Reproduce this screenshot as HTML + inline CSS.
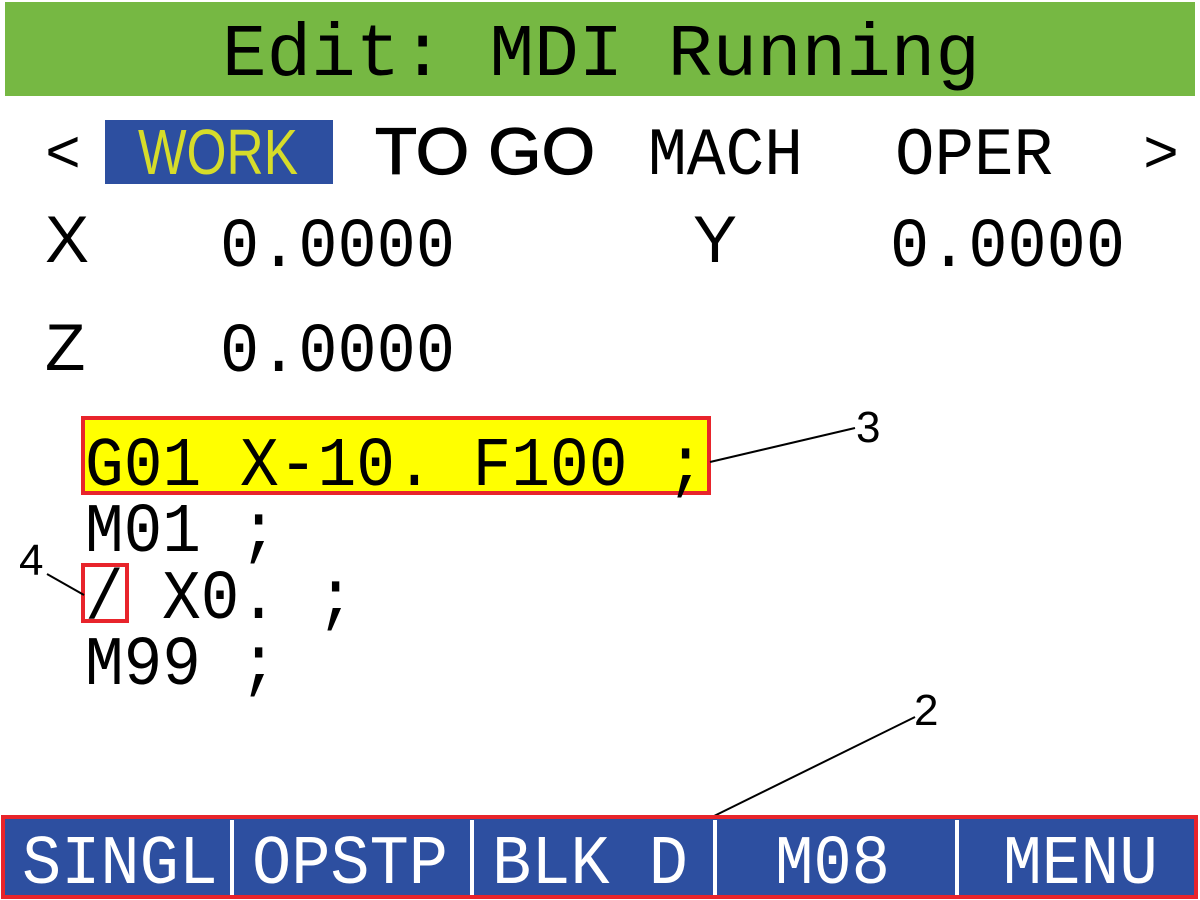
<!DOCTYPE html>
<html><head><meta charset="utf-8"><style>
html,body{margin:0;padding:0;background:#fff;width:1200px;height:900px;overflow:hidden}
svg{display:block}
text{font-family:"Liberation Mono",monospace}
.s{font-family:"Liberation Sans",sans-serif}
</style></head><body>
<svg width="1200" height="900" viewBox="0 0 1200 900">
<rect x="0" y="0" width="1200" height="900" fill="#fff"/>
<rect x="5" y="2" width="1190" height="94" fill="#76b843"/>
<text x="222" y="75" font-size="74" textLength="758" lengthAdjust="spacingAndGlyphs">Edit: MDI Running</text>

<text x="45" y="172" font-size="60">&lt;</text>
<rect x="105" y="120" width="228" height="64" fill="#2d4fa0"/>
<text x="138" y="174" font-size="64" fill="#d6dc2a" class="s" textLength="160" lengthAdjust="spacingAndGlyphs">WORK</text>
<text x="375" y="174" font-size="66" class="s" stroke="#000" stroke-width="1.2" textLength="220" lengthAdjust="spacingAndGlyphs">TO GO</text>
<text x="648" y="174" font-size="68" textLength="155" lengthAdjust="spacingAndGlyphs">MACH</text>
<text x="895" y="174" font-size="68" textLength="158" lengthAdjust="spacingAndGlyphs">OPER</text>
<text x="1143" y="172" font-size="60">&gt;</text>

<text x="45" y="262" font-size="66" class="s">X</text>
<text x="220" y="266" font-size="70" textLength="235" lengthAdjust="spacingAndGlyphs">0.0000</text>
<text x="693" y="262" font-size="66" class="s">Y</text>
<text x="890" y="266" font-size="70" textLength="235" lengthAdjust="spacingAndGlyphs">0.0000</text>
<text x="45" y="370" font-size="66" class="s">Z</text>
<text x="220" y="371" font-size="70" textLength="235" lengthAdjust="spacingAndGlyphs">0.0000</text>

<rect x="83" y="418" width="626" height="75" fill="#ffff00" stroke="#e8242b" stroke-width="4"/>
<text x="85" y="485" font-size="70" textLength="620" lengthAdjust="spacingAndGlyphs">G01 X-10. F100 ;</text>
<text x="85" y="551" font-size="70" textLength="193" lengthAdjust="spacingAndGlyphs">M01 ;</text>
<text x="85" y="618" font-size="70" textLength="270" lengthAdjust="spacingAndGlyphs">/ X0. ;</text>
<rect x="83" y="565" width="44" height="56" fill="none" stroke="#e8242b" stroke-width="4"/>
<text x="85" y="684" font-size="70" textLength="193" lengthAdjust="spacingAndGlyphs">M99 ;</text>

<text x="19" y="575" font-size="44" class="s">4</text>
<line x1="47" y1="574" x2="84" y2="595" stroke="#000" stroke-width="2"/>
<text x="856" y="442" font-size="44" class="s">3</text>
<line x1="710" y1="462" x2="855" y2="428" stroke="#000" stroke-width="2"/>
<text x="914" y="725" font-size="44" class="s">2</text>
<line x1="710" y1="818" x2="915" y2="717" stroke="#000" stroke-width="2"/>

<rect x="3" y="817" width="1193" height="80" fill="#2d4fa0" stroke="#e8242b" stroke-width="4"/>
<g stroke="#fff" stroke-width="4">
<line x1="232" y1="820" x2="232" y2="895"/><line x1="472" y1="820" x2="472" y2="895"/>
<line x1="715" y1="820" x2="715" y2="895"/><line x1="957" y1="820" x2="957" y2="895"/>
</g>
<g fill="#fff" font-size="70">
<text x="22" y="883" textLength="196" lengthAdjust="spacingAndGlyphs">SINGL</text>
<text x="252" y="883" textLength="196" lengthAdjust="spacingAndGlyphs">OPSTP</text>
<text x="492" y="883" textLength="196" lengthAdjust="spacingAndGlyphs">BLK D</text>
<text x="775" y="883" textLength="115" lengthAdjust="spacingAndGlyphs">M08</text>
<text x="1003" y="883" textLength="155" lengthAdjust="spacingAndGlyphs">MENU</text>
</g>
</svg>
</body></html>
